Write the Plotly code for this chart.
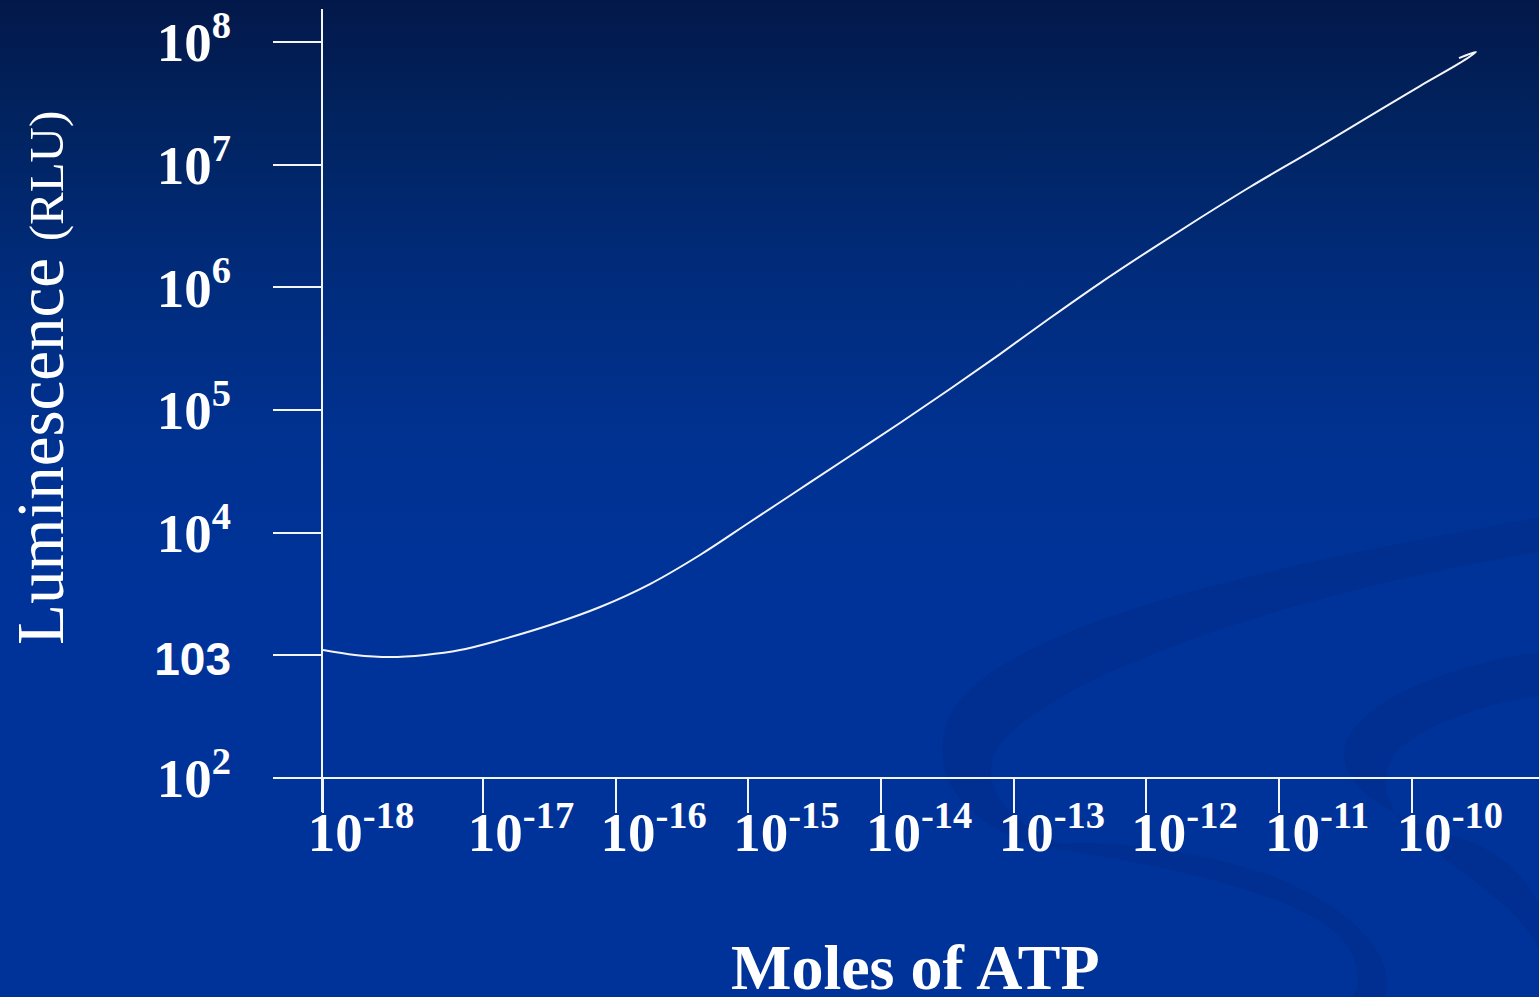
import base64
import plotly.graph_objects as go

# ATP standard curve: log10(moles of ATP) vs log10(luminescence, RLU)
LOG_MOLES = [-18.206, -17.965, -17.701, -17.437, -17.173, -16.872, -16.495,
             -16.118, -15.742, -15.365, -14.988, -14.611, -14.234, -13.858,
             -13.481, -13.104, -12.727, -12.350, -11.974, -11.597, -11.220,
             -10.745, -10.240, -9.939, -9.638, -9.517, -9.645]
LOG_RLU = [3.043, 3.003, 2.986, 3.003, 3.043, 3.125, 3.247,
           3.394, 3.581, 3.818, 4.087, 4.356, 4.625, 4.894,
           5.171, 5.456, 5.750, 6.035, 6.304, 6.565, 6.818,
           7.119, 7.446, 7.641, 7.829, 7.918, 7.869]

X_TICK_EXP = [-18, -17, -16, -15, -14, -13, -12, -11, -10]
Y_TICK_EXP = [2, 3, 4, 5, 6, 7, 8]

X_RANGE = [-18.206, -9.042]
Y_RANGE = [1.723, 8.269]

W, H = 1539, 997
ML, MR, MT, MB = 323, 0, 9, 185
PW, PH = W - ML - MR, H - MT - MB

WHITE = "#f4f5fa"
SERIF = "Liberation Serif"

# x ticks: the first label sits at the axis origin
x_tickvals = [X_RANGE[0]] + X_TICK_EXP[1:]
x_ticktext = [f"10<sup>{e}</sup>" for e in X_TICK_EXP]

y_ticktext = []
for e in Y_TICK_EXP:
    if e == 3:
        y_ticktext.append(
            "<span style='font-family:Liberation Sans;font-size:46px'>103</span>")
    else:
        y_ticktext.append(f"10<sup>{e}</sup>")

# slide background: vertical navy-to-blue gradient with soft ribbons
svg = f"""<svg xmlns="http://www.w3.org/2000/svg" width="{W}" height="{H}" viewBox="0 0 {W} {H}" preserveAspectRatio="none">
<defs><linearGradient id="g" x1="0" y1="0" x2="0" y2="1">
<stop offset="0" stop-color="#03184a"/>
<stop offset="0.12" stop-color="#01235f"/>
<stop offset="0.28" stop-color="#012c7c"/>
<stop offset="0.45" stop-color="#003292"/>
<stop offset="0.6" stop-color="#003399"/>
<stop offset="1" stop-color="#003399"/>
</linearGradient></defs>
<rect width="{W}" height="{H}" fill="url(#g)"/>
<g fill="#002a85" fill-opacity="0.4">
<path d="M 1539 518 C 1300 560, 1000 620, 950 715 C 920 790, 985 830, 1040 848 L 1060 845 C 1010 820, 980 790, 995 752 C 1030 690, 1250 600, 1539 552 Z"/>
<path d="M 1035 846 C 1150 862, 1320 895, 1350 950 C 1362 975, 1358 990, 1352 997 L 1385 997 C 1395 965, 1370 915, 1270 875 C 1180 845, 1090 838, 1035 846 Z"/>
<path d="M 1539 652 C 1450 665, 1360 700, 1345 745 C 1335 790, 1400 820, 1460 838 C 1500 850, 1530 880, 1539 905 L 1539 950 C 1520 905, 1455 872, 1412 832 C 1382 805, 1378 772, 1400 748 C 1430 722, 1490 702, 1539 696 Z"/>
</g>
</svg>"""
bg_src = "data:image/svg+xml;base64," + base64.b64encode(svg.encode()).decode()

fig = go.Figure()
fig.add_trace(go.Scatter(
    x=LOG_MOLES, y=LOG_RLU, mode="lines",
    line=dict(color=WHITE, width=2, shape="spline", smoothing=1.0),
    hoverinfo="skip", showlegend=False,
))

fig.add_layout_image(
    source=bg_src, xref="paper", yref="paper",
    x=-ML / PW, y=(PH + MT) / PH, sizex=W / PW, sizey=H / PH,
    xanchor="left", yanchor="top", sizing="stretch", layer="below",
)

# x axis line sits at the 10^2 level
x_line_pos = (Y_TICK_EXP[0] - Y_RANGE[0]) / (Y_RANGE[1] - Y_RANGE[0])

fig.update_layout(
    width=W, height=H,
    margin=dict(l=ML, r=MR, t=MT, b=MB, pad=0),
    paper_bgcolor="rgba(0,0,0,0)", plot_bgcolor="rgba(0,0,0,0)",
    xaxis=dict(
        range=X_RANGE, anchor="free", position=x_line_pos,
        showgrid=False, zeroline=False,
        showline=True, linecolor=WHITE, linewidth=2,
        ticks="outside", ticklen=34, tickwidth=2, tickcolor=WHITE,
        tickvals=x_tickvals, ticktext=x_ticktext,
        tickfont=dict(family=SERIF, size=55, color="white", weight="bold"),
        ticklabelshift=38, ticklabelstandoff=-28,
    ),
    yaxis=dict(
        range=Y_RANGE, anchor="x",
        showgrid=False, zeroline=False,
        showline=True, linecolor=WHITE, linewidth=2,
        ticks="outside", ticklen=48, tickwidth=2, tickcolor=WHITE,
        tickvals=Y_TICK_EXP, ticktext=y_ticktext,
        tickfont=dict(family=SERIF, size=55, color="white", weight="bold"),
        ticklabelstandoff=31,
    ),
    annotations=[
        dict(
            text="Luminescence <span style='font-size:49px'>(RLU)</span>",
            xref="paper", yref="paper",
            x=(40 - ML) / PW, y=(PH + MT - 378) / PH,
            xanchor="center", yanchor="middle", textangle=-90, showarrow=False,
            font=dict(family=SERIF, size=67, color="white"),
        ),
        dict(
            text="Moles of ATP",
            xref="paper", yref="paper",
            x=(915 - ML) / PW, y=(PH + MT - 968) / PH,
            xanchor="center", yanchor="middle", showarrow=False,
            font=dict(family=SERIF, size=64, color="white", weight="bold"),
        ),
    ],
)

fig.write_html("out.html")
